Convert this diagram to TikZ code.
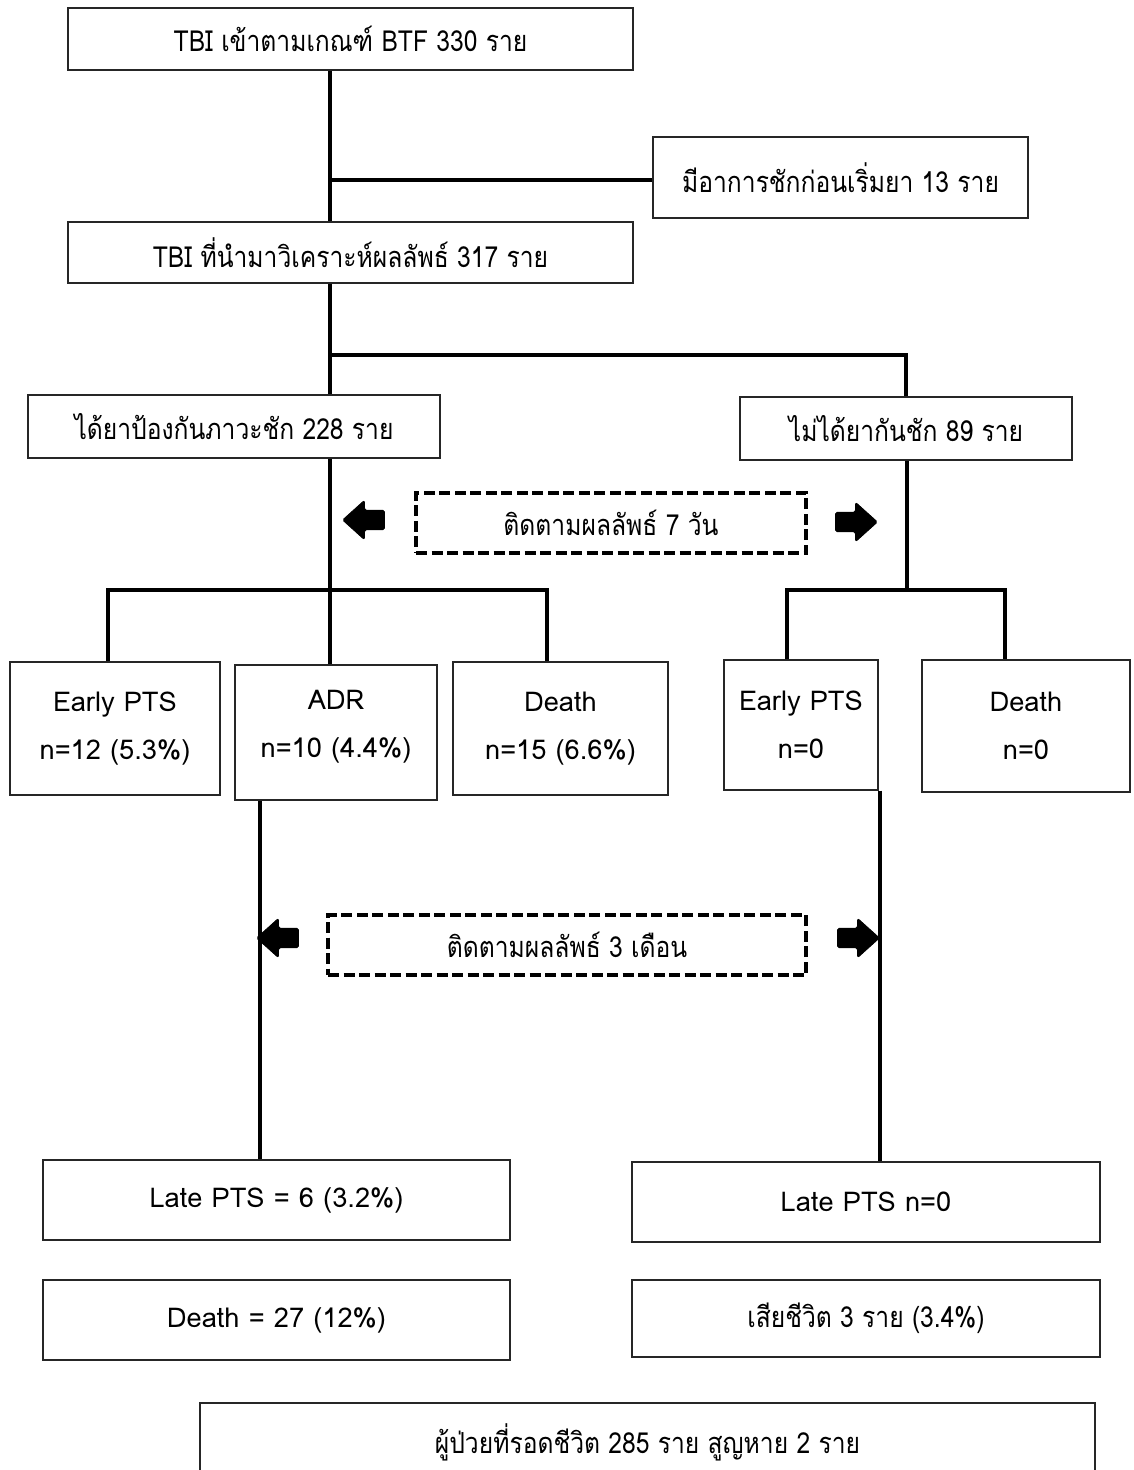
\documentclass[tikz,border=0pt]{standalone}
\usepackage{fontspec}
\setmainfont{Loma}[Script=Thai]
\newfontfamily\thaicond[Script=Thai,FakeStretch=0.85]{Loma}
\usetikzlibrary{shapes.arrows}

\tikzset{
  box/.style={draw=black!85, line width=0.8pt, inner sep=0pt, align=center,
    font=\thaicond\fontsize{16.5}{27}\selectfont},
  latin/.style={font=\fontsize{15.5}{27}\selectfont},
  conn/.style={line width=2.3pt},
  follow/.style={draw, line width=2.2pt, dash pattern=on 2.2mm off 0.9mm,
    minimum height=12mm, font=\thaicond\fontsize{16.5}{20}\selectfont},
  blockarrow/.style={single arrow, fill=black, draw=black, line width=0.4pt,
    inner xsep=0pt, inner ysep=1.9mm, minimum height=8.4mm,
    single arrow head extend=2mm, single arrow tip angle=84,
    rounded corners=1pt}
}

\begin{document}
\begin{tikzpicture}[x=0.2mm,y=-0.2mm]

\useasboundingbox (0,0) rectangle (1133,1470);

% intake
\node[box, minimum width=113mm, minimum height=12.4mm] (tbi) at (350.5,39) {TBI เข้าตามเกณฑ์ BTF 330 ราย};
\node[box, minimum width=75mm, minimum height=16.2mm] (excl) at (840.5,177.5) {มีอาการชักก่อนเริ่มยา 13 ราย};
\node[box, minimum width=113mm, minimum height=12.2mm] (anal) at (350.5,252.5) {TBI ที่นำมาวิเคราะห์ผลลัพธ์ 317 ราย};

\coordinate (trunk) at (330,180);
\draw[conn] (tbi.south -| trunk) -- (anal.north -| trunk);
\draw[conn] (trunk) -- (excl.west |- trunk);

% two groups
\node[box, minimum width=82.4mm, minimum height=12.6mm] (drug) at (234,426.5) {ได้ยาป้องกันภาวะชัก 228 ราย};
\node[box, minimum width=66.4mm, minimum height=12.6mm] (nodrug) at (906,428.5) {ไม่ได้ยากันชัก 89 ราย};

\coordinate (split) at (330,355);
\draw[conn] (anal.south -| split) -- (split) -| (nodrug.north);
\draw[conn] (split) -- (drug.north -| split);

% 7 days
\node[follow, minimum width=78mm] (fu7) at (611,523) {ติดตามผลลัพธ์ 7 วัน};
\node[blockarrow, shape border rotate=180] (fu7l) at (369,520) {};
\node[blockarrow] (fu7r) at (851,522) {};

\node[box, latin, minimum width=42mm, minimum height=26.6mm] (pts1) at (115,728.5) {Early PTS\\n=12 (5.3\%)};
\node[box, latin, minimum width=40.4mm, minimum height=27mm, text depth=10pt] (adr) at (336,732.5) {ADR\\n=10 (4.4\%)};
\node[box, latin, minimum width=43mm, minimum height=26.6mm] (dead1) at (560.5,728.5) {Death\\n=15 (6.6\%)};
\node[box, latin, minimum width=30.8mm, minimum height=26mm] (pts2) at (801,725) {Early PTS\\n=0};
\node[box, latin, minimum width=41.6mm, minimum height=26.4mm] (dead2) at (1026,726) {Death\\n=0};

\coordinate (lsplit) at (330,590);
\coordinate (l1) at (108,590);
\coordinate (l3) at (547,590);
\draw[conn] (drug.south -| lsplit) -- (adr.north -| lsplit);
\draw[conn] (pts1.north -| l1) -- (l1) -- (l3) -- (dead1.north -| l3);

\coordinate (rsplit) at (907,590);
\coordinate (r1) at (787,590);
\coordinate (r2) at (1005,590);
\draw[conn] (nodrug.south -| rsplit) -- (rsplit);
\draw[conn] (pts2.north -| r1) -- (r1) -- (r2) -- (dead2.north -| r2);

% 3 months
\node[follow, minimum width=95.6mm] (fu3) at (567,945) {ติดตามผลลัพธ์ 3 เดือน};
\node[blockarrow, shape border rotate=180] (fu3l) at (283,938) {};
\node[blockarrow] (fu3r) at (853,938) {};

\node[box, latin, minimum width=93.4mm, minimum height=16mm] (late1) at (276.5,1200) {Late PTS = 6 (3.2\%)};
\node[box, latin, minimum width=93.6mm, minimum height=16mm] (late2) at (866,1202) {Late PTS n=0};
\node[box, latin, minimum width=93.4mm, minimum height=16mm] (death1) at (276.5,1320) {Death = 27 (12\%)};
\node[box, minimum width=93.6mm, minimum height=15.4mm] (death2) at (866,1318.5) {เสียชีวิต 3 ราย (3.4\%)};

\coordinate (v1) at (260,800);
\coordinate (v2) at (880,790);
\draw[conn] (adr.south -| v1) -- (late1.north -| v1);
\draw[conn] (pts2.south -| v2) -- (late2.north -| v2);

\node[box, minimum width=179mm, minimum height=15.6mm] (alive) at (647.5,1442) {ผู้ป่วยที่รอดชีวิต 285 ราย สูญหาย 2 ราย};

\end{tikzpicture}
\end{document}
